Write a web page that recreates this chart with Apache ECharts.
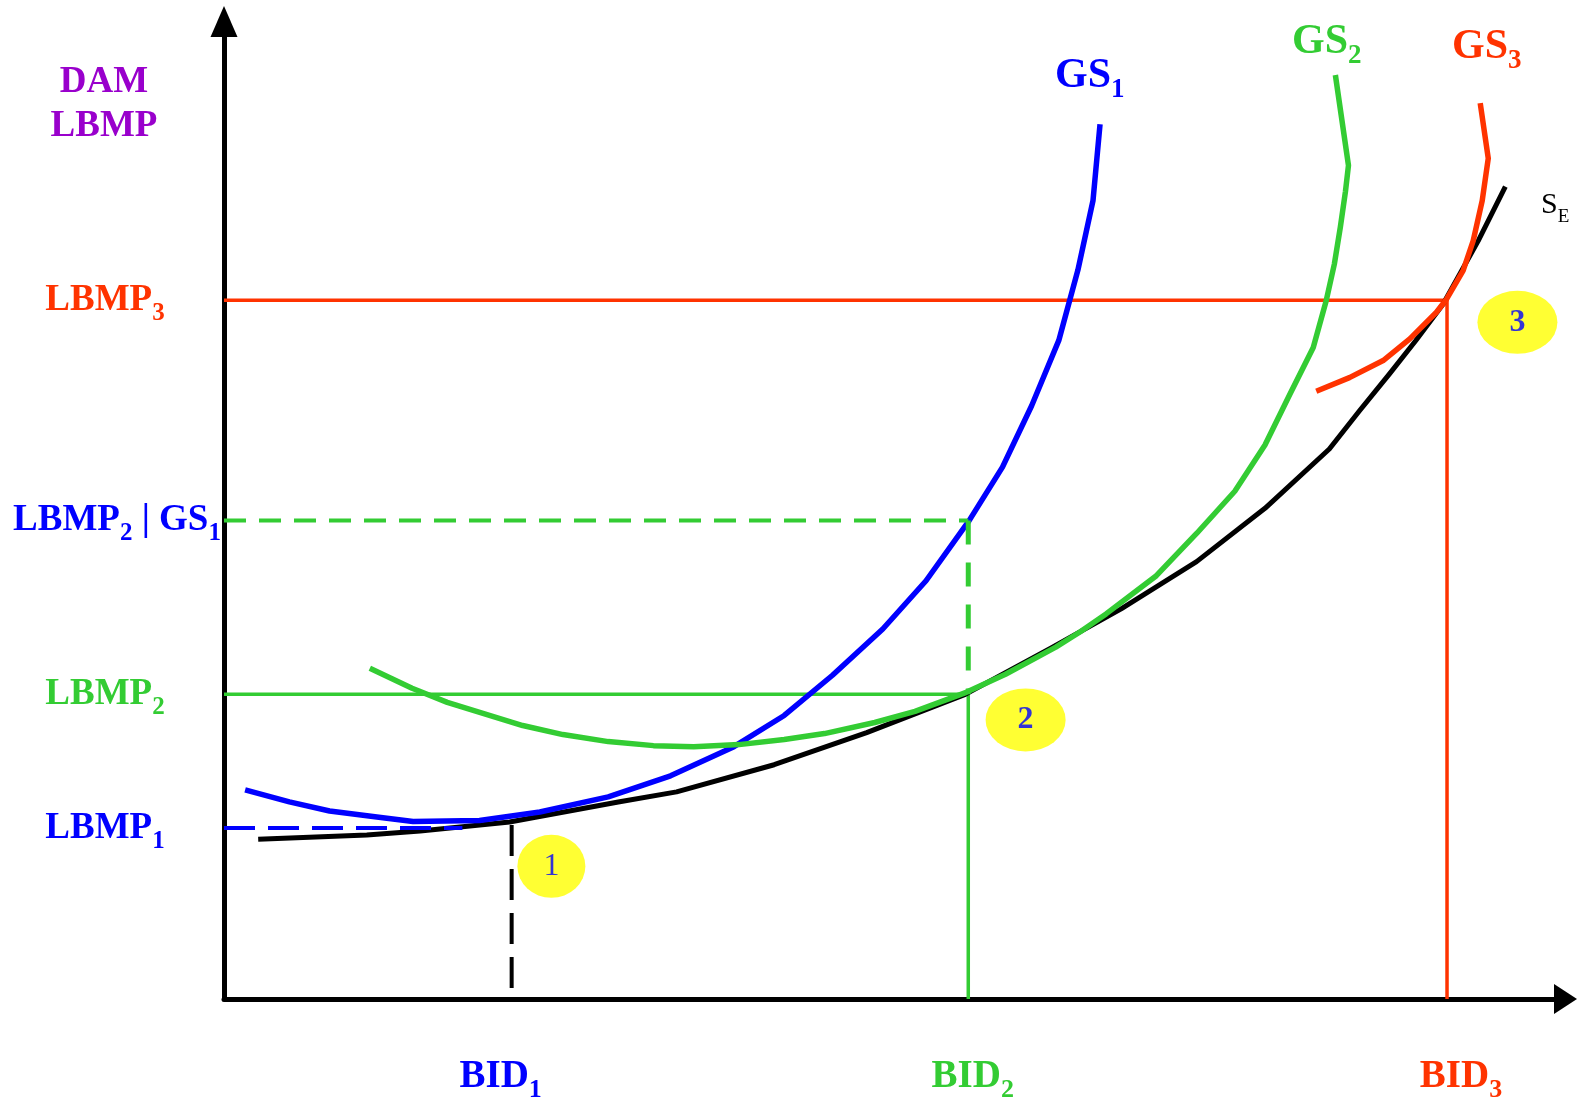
<!DOCTYPE html>
<html><head><meta charset="utf-8">
<script src="https://cdn.jsdelivr.net/npm/echarts@6/dist/echarts.min.js"></script>
<style>html,body{margin:0;padding:0;background:#fff}#c{width:1577px;height:1100px}</style>
</head><body><div id="c"></div>
<script>
// ---- data (quantity on x, price on y; arbitrary units) ----
const seCurve = [[34,159],[142,163],[195,167],[284,176],[392,196],[450,206],[547,233],[639,265],[737,303],[822,349],[892,388],[967,435],[1035,488],[1099,547],[1129,585],[1159,622],[1185,655],[1212,691],[1247,754],[1274,808]];
const gs1Curve = [[21,208],[65,196],[105,187],[152,181],[188,176.5],[254,177.5],[314,186],[382,201],[444,222],[507,251],[557,282],[605,322],[655,368],[698,416],[741,476],[774,529],[803,590],[830,655],[849,725],[864,794],[871,870]];
const gs2Curve = [[145,329],[187,309],[222,295],[297,272],[337,263],[382,256],[427,252],[467,251],[512,253],[557,258],[597,264],[647,275],[687,286],[738,305],[777,323],[827,350],[851,365],[877,383],[927,421],[967,463],[1005,505],[1035,551],[1060,602],[1083,648],[1096,695],[1104,731],[1110,768],[1115,803],[1118,829],[1105,919]];
const gs3Curve = [[1086,604.5],[1119,618],[1152.5,635],[1179,656.5],[1205.5,683],[1215.5,696],[1232,724.5],[1242,754],[1251,794],[1257,836],[1249,891]];

const lbmp1 = 170, lbmp2 = 303, lbmp2gs1 = 476, lbmp3 = 695;
const bid1 = 286, bid2 = 740, bid3 = 1216;
const lbmp1DashEnd = 237;
const bid1DashTop = 173, bid1DashBottom = 11;

const lbmpValues = [lbmp1, lbmp2, lbmp2gs1, lbmp3];
const lbmpNames = ['LBMP', 'LBMP', 'LBMP', 'LBMP'];
const lbmpSubs = ['1', '2', '2', '3'];
const bidValues = [bid1, bid2, bid3];
const bidNames = ['BID', 'BID', 'BID'];
const bidSubs = ['1', '2', '3'];

const circleX = [325.5, 797, 1286];
const circleY = [132, 277.6, 673];
const circleText = ['1', '2', '3'];

// ---- styles ----
const BLUE = '#0000FF', GREEN = '#33CC33', RED = '#FF3300', PURPLE = '#9900CC', YELLOW = '#FFFF00';
const SERIF = '"Liberation Serif", "Times New Roman", serif';
function mainStyle(color, size, extra) {
  return Object.assign({color: color, fill: color, fontFamily: SERIF, fontWeight: 'bold', fontSize: size, lineHeight: size}, extra || {});
}
function subStyle(color, size, pad, extra) {
  return Object.assign({color: color, fill: color, fontFamily: SERIF, fontWeight: 'bold', fontSize: size, lineHeight: size, padding: [pad, 0, 0, 0]}, extra || {});
}
const yRich = {
  bm: mainStyle(BLUE, 37), bs: subStyle(BLUE, 25, 27),
  gm: mainStyle(GREEN, 37), gs: subStyle(GREEN, 25, 27),
  rm: mainStyle(RED, 37), rs: subStyle(RED, 25, 27),
  bmL: mainStyle(BLUE, 37, {padding: [0, 0, 0, 24]})
};
const xRich = {
  bm: mainStyle(BLUE, 39), bsR: subStyle(BLUE, 26, 28, {padding: [28, 22, 0, 0]}),
  gmL: mainStyle(GREEN, 39, {padding: [0, 0, 0, 9]}), gs: subStyle(GREEN, 26, 28),
  rmL: mainStyle(RED, 39, {padding: [0, 0, 0, 28]}), rs: subStyle(RED, 26, 28)
};
function nearestIndex(arr, v) {
  let best = 0;
  for (let i = 1; i < arr.length; i++) if (Math.abs(arr[i] - v) < Math.abs(arr[best] - v)) best = i;
  return best;
}
function yLabel(value) {
  const i = nearestIndex(lbmpValues, value);
  const n = lbmpNames[i], s = lbmpSubs[i];
  if (i === 0) return '{bm|' + n + '}{bs|' + s + '}';
  if (i === 1) return '{gm|' + n + '}{gs|' + s + '}';
  if (i === 2) return '{bmL|' + n + '}{bs|' + s + '}{bm| | GS}{bs|1}';
  return '{rm|' + n + '}{rs|' + s + '}';
}
function xLabel(value) {
  const i = nearestIndex(bidValues, value);
  const n = bidNames[i], s = bidSubs[i];
  if (i === 0) return '{bm|' + n + '}{bsR|' + s + '}';
  if (i === 1) return '{gmL|' + n + '}{gs|' + s + '}';
  return '{rmL|' + n + '}{rs|' + s + '}';
}

function lineSeries(data, color, width, type, z) {
  return {type: 'line', data: data, symbol: 'none', showSymbol: false, silent: true, clip: false, z: z,
    lineStyle: {color: color, width: width, type: type || 'solid', cap: 'butt', join: 'round'}};
}

const circleSizes = [[68, 63], [80, 63], [80, 63]];
const circleWeights = ['normal', 'bold', 'bold'];
const circleData = circleX.map((x, i) => ({
  value: [x, circleY[i]],
  symbolSize: circleSizes[i],
  label: {show: true, position: 'inside', formatter: circleText[i], color: BLUE, fontFamily: SERIF, fontSize: 32, fontWeight: circleWeights[i]}
}));

const chart = echarts.init(document.getElementById('c'), null, {renderer: 'canvas'});
chart.setOption({
  animation: false,
  backgroundColor: '#ffffff',
  grid: {left: 224, right: 11.5, top: 21.5, bottom: 101, containLabel: false, outerBoundsMode: 'none'},
  xAxis: {
    type: 'value', min: 0, max: 1333.8,
    axisLine: {show: true, onZero: false, symbol: ['none', 'triangle'], symbolSize: [30, 23], lineStyle: {color: '#000', width: 5}},
    axisTick: {show: false}, splitLine: {show: false},
    axisLabel: {show: true, customValues: bidValues, interval: 0, margin: 58, formatter: xLabel, rich: xRich, align: 'center'}
  },
  yAxis: {
    type: 'value', min: 0, max: 972.2,
    axisLine: {show: true, onZero: false, symbol: ['none', 'triangle'], symbolSize: [27, 31], lineStyle: {color: '#000', width: 5}},
    axisTick: {show: false}, splitLine: {show: false},
    axisLabel: {show: true, customValues: lbmpValues, interval: 0, margin: 119, formatter: yLabel, rich: yRich, align: 'center', verticalAlign: 'middle'}
  },
  graphic: [
    {type: 'text', x: 104, y: 104, style: {text: 'DAM\nLBMP', fill: PURPLE, font: 'bold 37px ' + SERIF, lineHeight: 44, align: 'center', verticalAlign: 'middle', textAlign: 'center', textVerticalAlign: 'middle'}},
    {type: 'text', x: 1055, y: 76, style: {text: '{m|GS}{s|1}', align: 'left', verticalAlign: 'middle', textAlign: 'left', textVerticalAlign: 'middle',
      rich: {m: mainStyle(BLUE, 42), s: subStyle(BLUE, 27, 28)}}},
    {type: 'text', x: 1292, y: 42, style: {text: '{m|GS}{s|2}', align: 'left', verticalAlign: 'middle', textAlign: 'left', textVerticalAlign: 'middle',
      rich: {m: mainStyle(GREEN, 42), s: subStyle(GREEN, 27, 28)}}},
    {type: 'text', x: 1452, y: 47, style: {text: '{m|GS}{s|3}', align: 'left', verticalAlign: 'middle', textAlign: 'left', textVerticalAlign: 'middle',
      rich: {m: mainStyle(RED, 42), s: subStyle(RED, 27, 28)}}},
    {type: 'text', x: 1541, y: 205, style: {text: '{m|S}{s|E}', align: 'left', verticalAlign: 'middle', textAlign: 'left', textVerticalAlign: 'middle',
      rich: {m: mainStyle('#000', 30, {fontWeight: 'normal'}), s: subStyle('#000', 19, 25, {fontWeight: 'normal'})}}}
  ],
  series: [
    lineSeries([[0, lbmp3], [bid3, lbmp3], [bid3, 0]], RED, 3.5, 'solid', 2),
    lineSeries([[0, lbmp2], [bid2, lbmp2], [bid2, 0]], GREEN, 3.5, 'solid', 2),
    lineSeries(seCurve, '#000', 5, 'solid', 3),
    lineSeries(gs1Curve, BLUE, 5.5, 'solid', 4),
    lineSeries(gs2Curve, GREEN, 5.5, 'solid', 4),
    lineSeries(gs3Curve, RED, 5.5, 'solid', 4),
    lineSeries([[0, lbmp2gs1], [bid2, lbmp2gs1]], GREEN, 4, [22, 13], 5),
    lineSeries([[bid2, lbmp2gs1], [bid2, lbmp2]], GREEN, 5, [24, 18], 5),
    lineSeries([[0, lbmp1], [lbmp1DashEnd, lbmp1]], BLUE, 4, [31, 13], 5),
    lineSeries([[bid1, bid1DashTop], [bid1, bid1DashBottom]], '#000', 4, [31, 13], 5),
    {type: 'scatter', data: circleData, symbol: 'circle', silent: true, z: 6, itemStyle: {color: YELLOW}}
  ]
});
</script>
</body></html>
